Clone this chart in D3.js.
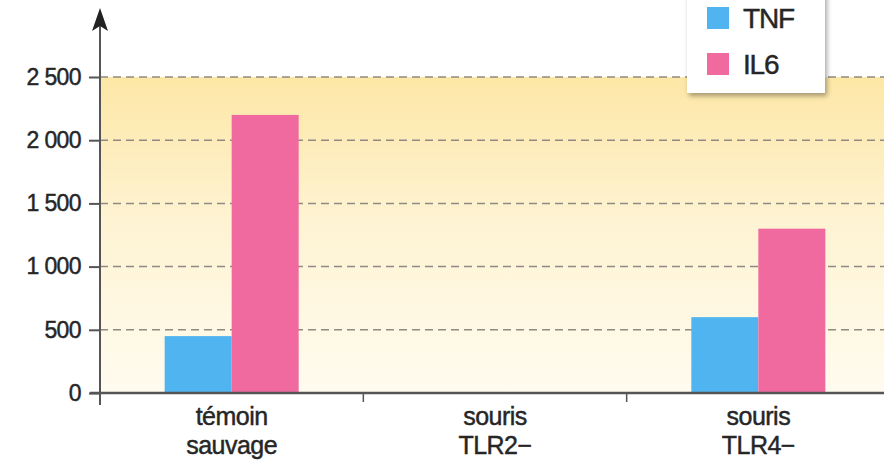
<!DOCTYPE html>
<html>
<head>
<meta charset="utf-8">
<script src="https://cdn.jsdelivr.net/npm/d3@7"></script>
<style>
body { margin: 0; background: #fff; }
svg { display: block; }
text { font-family: "Liberation Sans", Arial, sans-serif; fill: #262626; stroke: #262626; stroke-width: 0.45px; }
</style>
</head>
<body>
<svg id="chart" width="884" height="463"></svg>
<script>
// data
var categories = ["témoin|sauvage", "souris|TLR2−", "souris|TLR4−"];
var seriesNames = ["TNF", "IL6"];
var tnfValues = [450, 0, 600];
var il6Values = [2200, 0, 1300];
var yTicks = [0, 500, 1000, 1500, 2000, 2500];
var yTickLabels = ["0", "500", "1 000", "1 500", "2 000", "2 500"];

var colors = { "TNF": "#4fb4ef", "IL6": "#f06a9f" };

var svg = d3.select("#chart");
var width = 884, height = 463;

var x0 = 100, y0 = 393;

var xScale = d3.scaleBand().domain(categories).range([x0, 890]).padding(0);
var xInner = d3.scaleBand().domain(seriesNames).range([0, xScale.bandwidth()])
    .paddingInner(0).paddingOuter(0.965);
var yScale = d3.scaleLinear().domain([0, 2500]).range([y0, 77]);

// background gradient
var defs = svg.append("defs");
var grad = defs.append("linearGradient").attr("id", "bg")
    .attr("x1", 0).attr("y1", 0).attr("x2", 0).attr("y2", 1);
grad.append("stop").attr("offset", "0%").attr("stop-color", "#fde7a6");
grad.append("stop").attr("offset", "45%").attr("stop-color", "#fef3d2");
grad.append("stop").attr("offset", "100%").attr("stop-color", "#fffbef");

var shadow = defs.append("filter").attr("id", "shadow")
    .attr("x", "-20%").attr("y", "-20%").attr("width", "140%").attr("height", "140%");
shadow.append("feDropShadow").attr("dx", 2).attr("dy", 3).attr("stdDeviation", 2.5)
    .attr("flood-color", "#000").attr("flood-opacity", 0.35);

svg.append("rect")
    .attr("x", x0).attr("y", yScale(2500))
    .attr("width", width - x0).attr("height", y0 - yScale(2500))
    .style("fill", "url(#bg)");

// dashed gridlines
svg.append("g").selectAll("line")
    .data(yTicks.slice(1))
    .enter().append("line")
    .attr("x1", x0).attr("x2", width)
    .attr("y1", function(d){ return yScale(d); })
    .attr("y2", function(d){ return yScale(d); })
    .style("stroke", "#8f8a84")
    .style("stroke-width", 1.5)
    .style("stroke-dasharray", "8,5");

// bars
var rows = categories.map(function(c, i){
    return [
        { cat: c, name: "TNF", value: tnfValues[i] },
        { cat: c, name: "IL6", value: il6Values[i] }
    ];
});

svg.append("g").selectAll("g")
    .data(rows)
    .enter().append("g")
    .attr("transform", function(d){ return "translate(" + xScale(d[0].cat) + ",0)"; })
    .selectAll("rect")
    .data(function(d){ return d.filter(function(v){ return v.value > 0; }); })
    .enter().append("rect")
    .attr("x", function(d){ return xInner(d.name); })
    .attr("width", xInner.bandwidth())
    .attr("y", function(d){ return yScale(d.value); })
    .attr("height", function(d){ return y0 - yScale(d.value); })
    .style("fill", function(d){ return colors[d.name]; });

// y axis
var yAxis = d3.axisLeft(yScale).tickValues(yTicks)
    .tickFormat(function(d, i){ return yTickLabels[i]; })
    .tickSize(11).tickPadding(8);

var yAxisG = svg.append("g")
    .attr("transform", "translate(" + x0 + ",0)")
    .call(yAxis);
yAxisG.select(".domain").remove();
yAxisG.selectAll(".tick line").style("stroke", "#555").style("stroke-width", 2);
yAxisG.selectAll(".tick text")
    .style("font-family", "'Liberation Sans', Arial, sans-serif")
    .style("font-size", "23px")
    .style("letter-spacing", "-0.6px")
    .style("fill", "#262626");

svg.append("line")
    .attr("x1", x0).attr("x2", x0)
    .attr("y1", 405).attr("y2", 22)
    .style("stroke", "#555").style("stroke-width", 2);

// arrow head
svg.append("path")
    .attr("d", "M" + x0 + ",8 L" + (x0 + 8) + ",31 L" + x0 + ",26 L" + (x0 - 8) + ",31 Z")
    .style("fill", "#222");

// x axis
svg.append("line")
    .attr("x1", x0 - 10).attr("x2", width)
    .attr("y1", y0).attr("y2", y0)
    .style("stroke", "#555").style("stroke-width", 2.5);

// small ticks between groups
svg.append("g").selectAll("line")
    .data(categories.slice(1))
    .enter().append("line")
    .attr("x1", function(d){ return xScale(d); })
    .attr("x2", function(d){ return xScale(d); })
    .attr("y1", y0).attr("y2", y0 + 9)
    .style("stroke", "#555").style("stroke-width", 1.5);

// category labels on two lines
var catLabels = svg.append("g").selectAll("text")
    .data(categories)
    .enter().append("text")
    .attr("x", function(d){ return xScale(d) + xScale.bandwidth() / 2; })
    .attr("y", 425)
    .style("text-anchor", "middle")
    .style("font-size", "25px")
    .style("letter-spacing", "-0.5px");

catLabels.selectAll("tspan")
    .data(function(d){ return d.split("|"); })
    .enter().append("tspan")
    .attr("x", function(){ return d3.select(this.parentNode).attr("x"); })
    .attr("dy", function(d, i){ return i == 0 ? 0 : 29; })
    .text(function(d){ return d; });

// legend
var legend = svg.append("g");
legend.append("rect")
    .attr("x", 687).attr("y", -10)
    .attr("width", 138).attr("height", 103)
    .style("fill", "#fff")
    .attr("filter", "url(#shadow)");

var legendItems = legend.selectAll("g")
    .data(seriesNames)
    .enter().append("g")
    .attr("transform", function(d, i){ return "translate(707," + (7 + i * 46) + ")"; });

legendItems.append("rect")
    .attr("width", 22).attr("height", 22)
    .style("fill", function(d){ return colors[d]; });

legendItems.append("text")
    .attr("x", 36).attr("y", 21)
    .style("font-size", "28px")
    .style("letter-spacing", "-1.2px")
    .text(function(d){ return d; });
</script>
</body>
</html>
